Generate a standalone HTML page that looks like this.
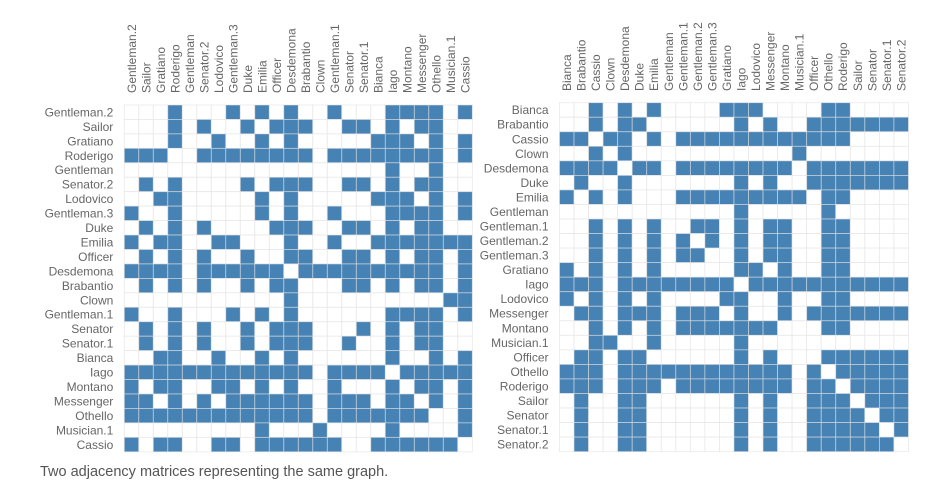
<!DOCTYPE html>
<html><head><meta charset="utf-8"><style>
html,body{margin:0;padding:0;background:#fff;}
body{width:952px;height:490px;overflow:hidden;position:relative;}
svg{position:absolute;left:0;top:0;}
text{font-family:"Liberation Sans",Arial,sans-serif;font-size:12px;fill:#666;}
.cap{position:absolute;left:40px;top:464px;font-family:"Liberation Sans",Arial,sans-serif;font-size:14.5px;color:#555;}
</style></head><body>
<svg id="s" width="952" height="490" xmlns="http://www.w3.org/2000/svg"></svg>
<div class="cap">Two adjacency matrices representing the same graph.</div>
<script>
var names=["Bianca","Brabantio","Cassio","Clown","Desdemona","Duke","Emilia","Gentleman","Gentleman.1","Gentleman.2","Gentleman.3","Gratiano","Iago","Lodovico","Messenger","Montano","Musician.1","Officer","Othello","Roderigo","Sailor","Senator","Senator.1","Senator.2"];
function r(a,b){var o=[];for(var i=a;i<=b;i++)o.push(i);return o;}
var adj={
0:[2,4,6,11,12,13,18,19],
1:[2,4,5,12,14].concat(r(17,23)),
2:[0,1,3,4,6].concat(r(8,19)),
3:[2,4,16],
4:[0,1,2,3,5,6].concat(r(8,15),r(17,23)),
5:[1,4,12,14].concat(r(17,23)),
6:[0,2,4].concat(r(8,16),[18,19]),
7:[12,18],
8:[2,4,6,9,10,12,14,15,18,19],
9:[2,4,6,8,10,12,14,15,18,19],
10:[2,4,6,8,9,12,14,15,18,19],
11:[0,2,4,6,12,13,15,18,19],
12:[0,1,2].concat(r(4,11),r(13,23)),
13:[0,2,4,6,11,12,15,18,19],
14:[1,2,4,5,6,8,9,10,12,15].concat(r(17,23)),
15:[2,4,6].concat(r(8,14),[18,19]),
16:[2,3,6,12],
17:[1,2,4,5,12,14].concat(r(18,23)),
18:[0,1,2].concat(r(4,15),[17],r(19,23)),
19:[0,1,2,4,5,6].concat(r(8,15),[17,18],r(20,23)),
20:[1,4,5,12,14,17,18,19,21,22,23],
21:[1,4,5,12,14,17,18,19,20,22,23],
22:[1,4,5,12,14,17,18,19,20,21,23],
23:[1,4,5,12,14,17,18,19,20,21,22]
};
var M=[];for(var i=0;i<24;i++){M.push([]);for(var j=0;j<24;j++)M[i].push(false);}
for(var k in adj){adj[k].forEach(function(j){M[k][j]=true;M[j][k]=true;});}
var leftOrder=["Gentleman.2","Sailor","Gratiano","Roderigo","Gentleman","Senator.2","Lodovico","Gentleman.3","Duke","Emilia","Officer","Desdemona","Brabantio","Clown","Gentleman.1","Senator","Senator.1","Bianca","Iago","Montano","Messenger","Othello","Musician.1","Cassio"];
var s=document.getElementById("s"),h="";
function draw(order,x0,y0,cw,ch,labY){
  var idx=order.map(function(n){return names.indexOf(n);});
  for(var i=0;i<24;i++)for(var j=0;j<24;j++){
    var f=M[idx[i]][idx[j]]?"#4682b4":"#fff";
    h+='<rect x="'+(x0+j*cw).toFixed(2)+'" y="'+(y0+i*ch).toFixed(2)+'" width="'+cw.toFixed(2)+'" height="'+ch.toFixed(2)+'" fill="'+f+'" stroke="#e2e2e2" stroke-opacity="0.7" stroke-width="0.8"/>';
  }
  for(var i=0;i<24;i++){
    h+='<text x="'+(x0-11)+'" y="'+(y0+i*ch+ch/2+4.2).toFixed(2)+'" text-anchor="end">'+order[i]+'</text>';
    var cx=x0+i*cw+cw/2+4.2;
    h+='<text transform="translate('+cx.toFixed(2)+','+labY+') rotate(-90)" text-anchor="start">'+order[i]+'</text>';
  }
}
draw(leftOrder,124.3,105,14.5,14.45,93);
draw(names,559.5,102.7,14.54,14.54,91);
s.innerHTML=h;
</script>
</body></html>
